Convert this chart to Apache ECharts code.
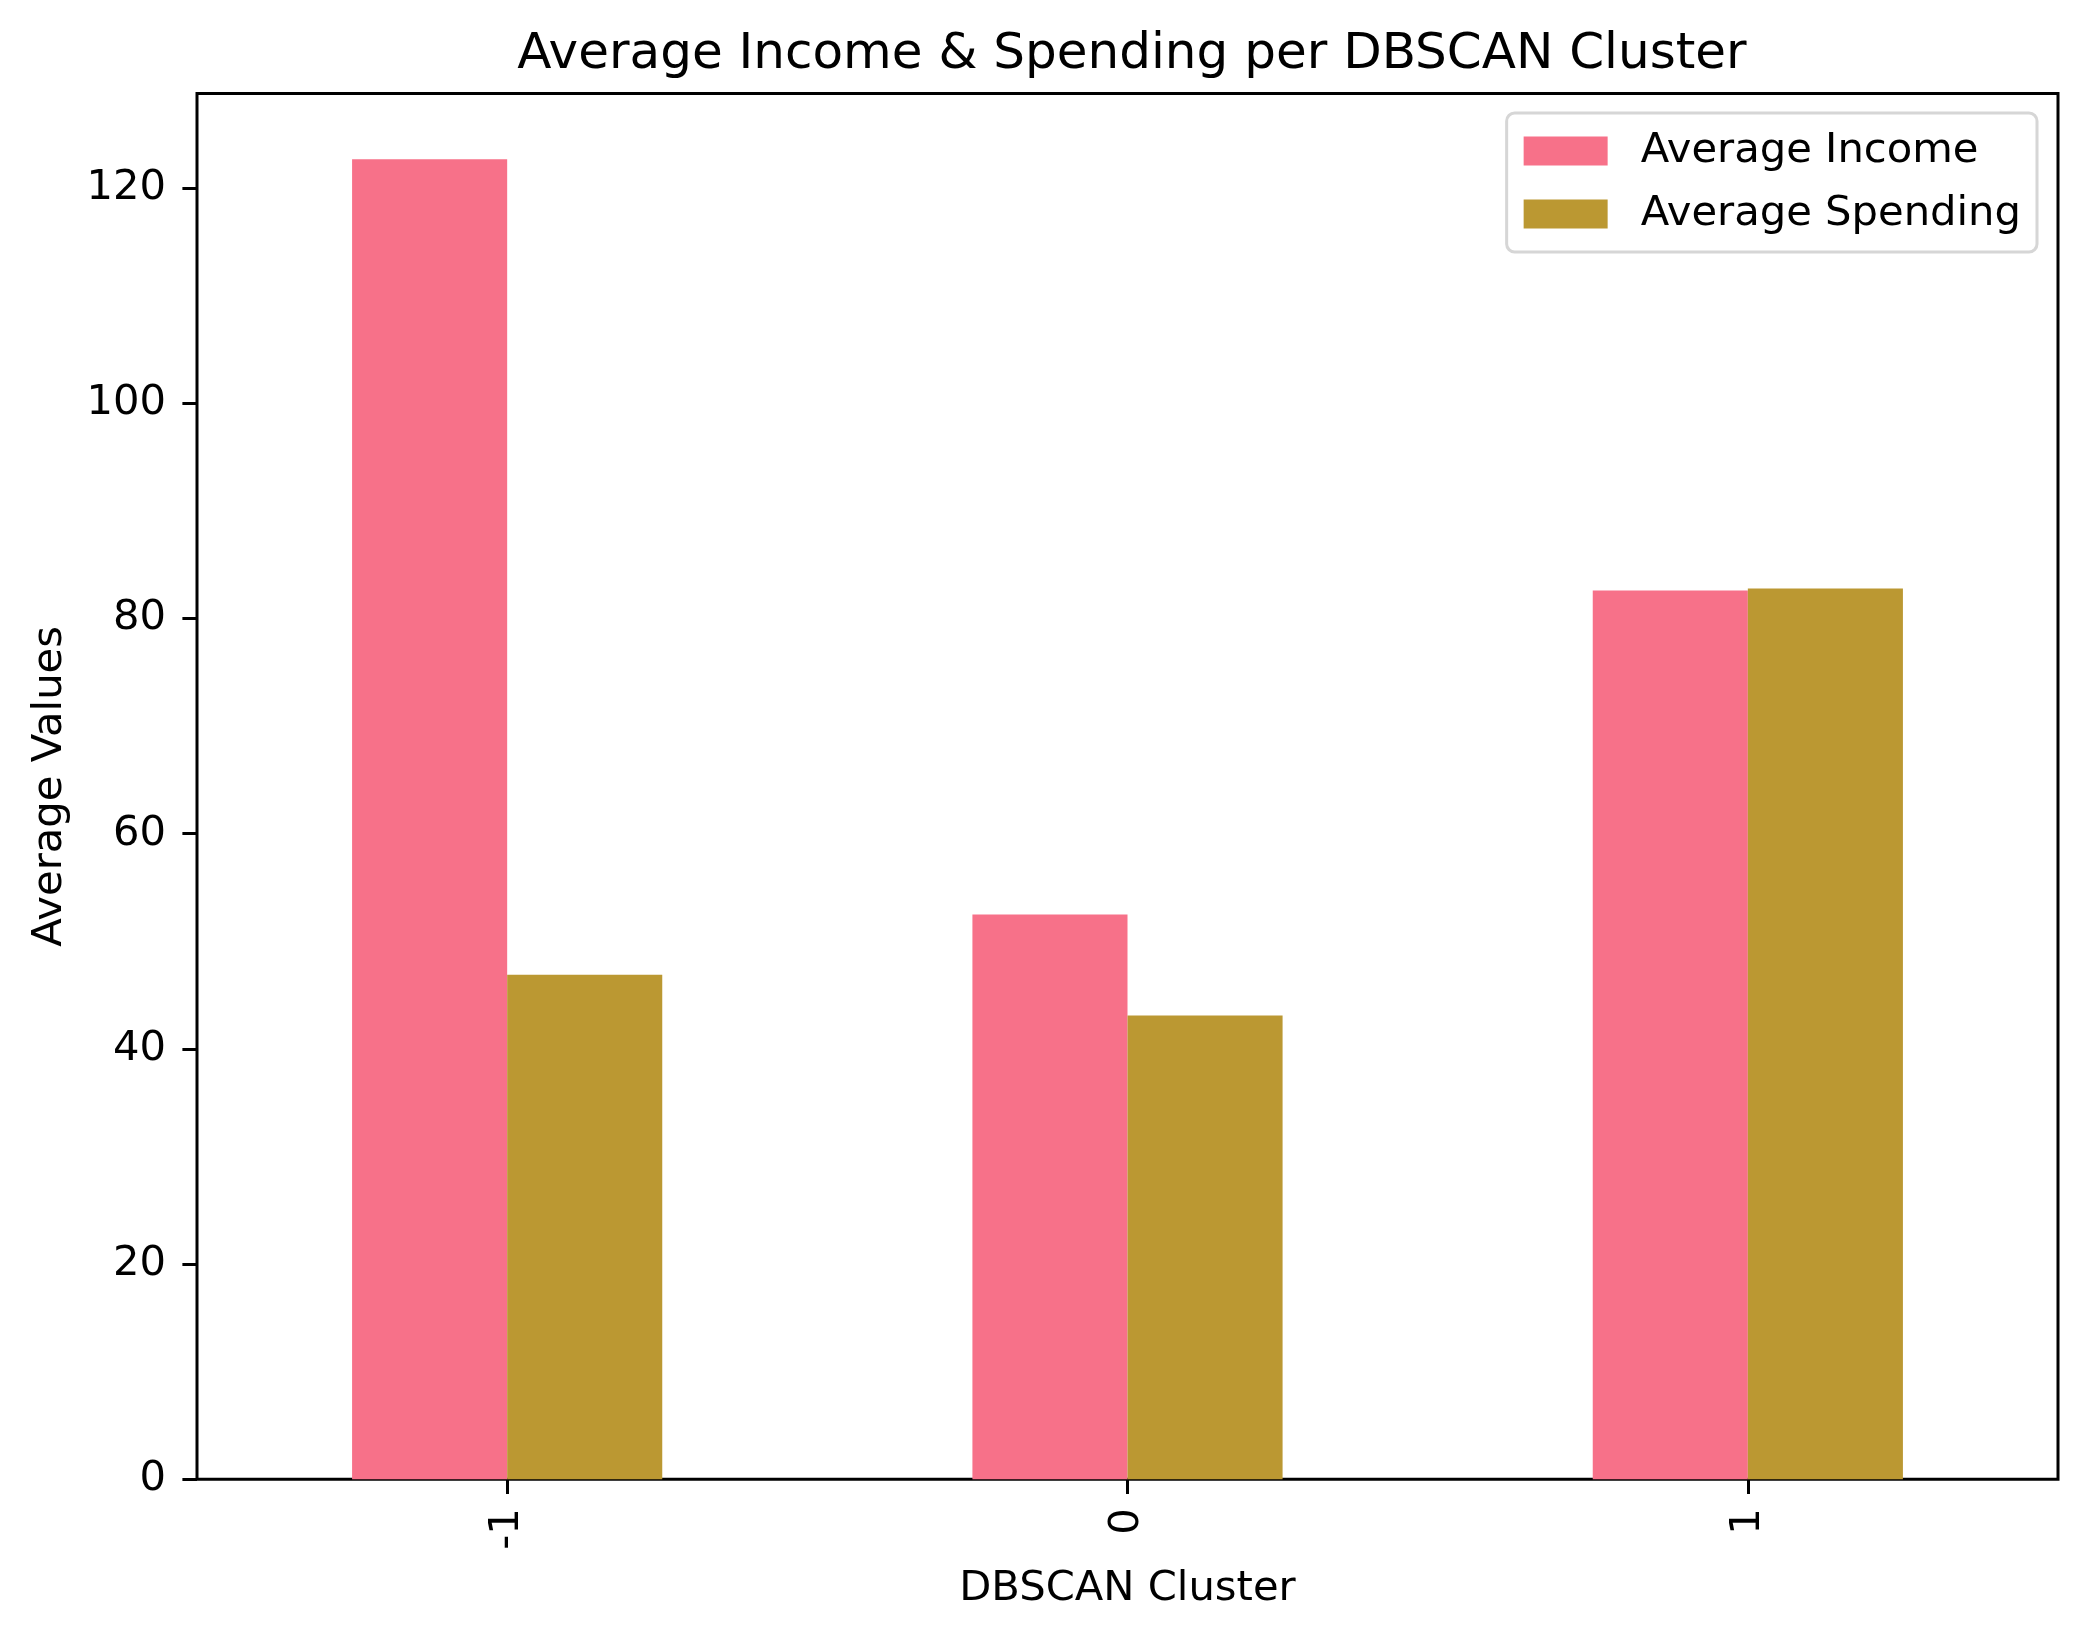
<!DOCTYPE html>
<html>
<head>
<meta charset="utf-8">
<script src="https://cdn.jsdelivr.net/npm/echarts@6/dist/echarts.min.js"></script>
<style>
  html, body { margin: 0; padding: 0; background: #fff; }
  #chart { width: 2087px; height: 1638px; }
</style>
</head>
<body>
<div id="chart"></div>
<script>
let clusters = ['-1', '0', '1'];
let avgIncome = [122.7, 52.5, 82.6];
let avgSpending = [46.9, 43.1, 82.8];
let yTicks = [0, 20, 40, 60, 80, 100, 120];

let incomeColor = '#f77189';
let spendingColor = '#bb9832';
let font = 'DejaVu Sans';

let chart = echarts.init(document.getElementById('chart'));

let option = {
    backgroundColor: '#ffffff',
    animation: false,
    title: {
        text: 'Average Income & Spending per DBSCAN Cluster',
        left: 1127,
        textAlign: 'center',
        top: 25,
        textStyle: {
            fontFamily: font,
            fontSize: 50,
            fontWeight: 'normal',
            color: '#000'
        }
    },
    legend: {
        data: ['Average Income', 'Average Spending'],
        orient: 'vertical',
        right: 50,
        top: 113,
        padding: [17, 16, 17, 17],
        itemGap: 21,
        itemWidth: 84,
        itemHeight: 29,
        borderColor: '#d6d6d6',
        borderWidth: 3,
        borderRadius: 8,
        backgroundColor: '#ffffff',
        icon: 'rect',
        textStyle: {
            fontFamily: font,
            fontSize: 41.7,
            color: '#000',
            lineHeight: 42,
            padding: [0, 0, 0, 28]
        }
    },
    grid: {
        left: 197,
        right: 29,
        top: 93.5,
        bottom: 158.7,
        show: true,
        borderColor: '#000',
        borderWidth: 3,
        backgroundColor: 'transparent'
    },
    xAxis: {
        type: 'category',
        data: clusters,
        name: 'DBSCAN Cluster',
        nameLocation: 'middle',
        nameGap: 89,
        nameTextStyle: { fontFamily: font, fontSize: 41.7, color: '#000' },
        axisLine: { show: false },
        axisTick: {
            show: true,
            alignWithLabel: true,
            length: 14.6,
            lineStyle: { color: '#000', width: 3 }
        },
        axisLabel: {
            rotate: 90,
            margin: 29,
            fontFamily: font,
            fontSize: 41.7,
            color: '#000'
        },
        splitLine: { show: false }
    },
    yAxis: {
        type: 'value',
        min: 0,
        max: 128.8,
        name: 'Average Values',
        nameLocation: 'middle',
        nameGap: 126,
        nameRotate: 90,
        nameTextStyle: { fontFamily: font, fontSize: 41.7, color: '#000' },
        axisLine: { show: false },
        axisTick: {
            show: true,
            customValues: yTicks,
            length: 14.6,
            lineStyle: { color: '#000', width: 3 }
        },
        axisLabel: {
            customValues: yTicks,
            margin: 31,
            fontFamily: font,
            fontSize: 41.7,
            color: '#000'
        },
        splitLine: { show: false }
    },
    series: [
        {
            name: 'Average Income',
            type: 'bar',
            data: avgIncome,
            barWidth: '25%',
            barGap: '0%',
            itemStyle: { color: incomeColor }
        },
        {
            name: 'Average Spending',
            type: 'bar',
            data: avgSpending,
            barWidth: '25%',
            barGap: '0%',
            itemStyle: { color: spendingColor }
        }
    ]
};

chart.setOption(option);
</script>
</body>
</html>
